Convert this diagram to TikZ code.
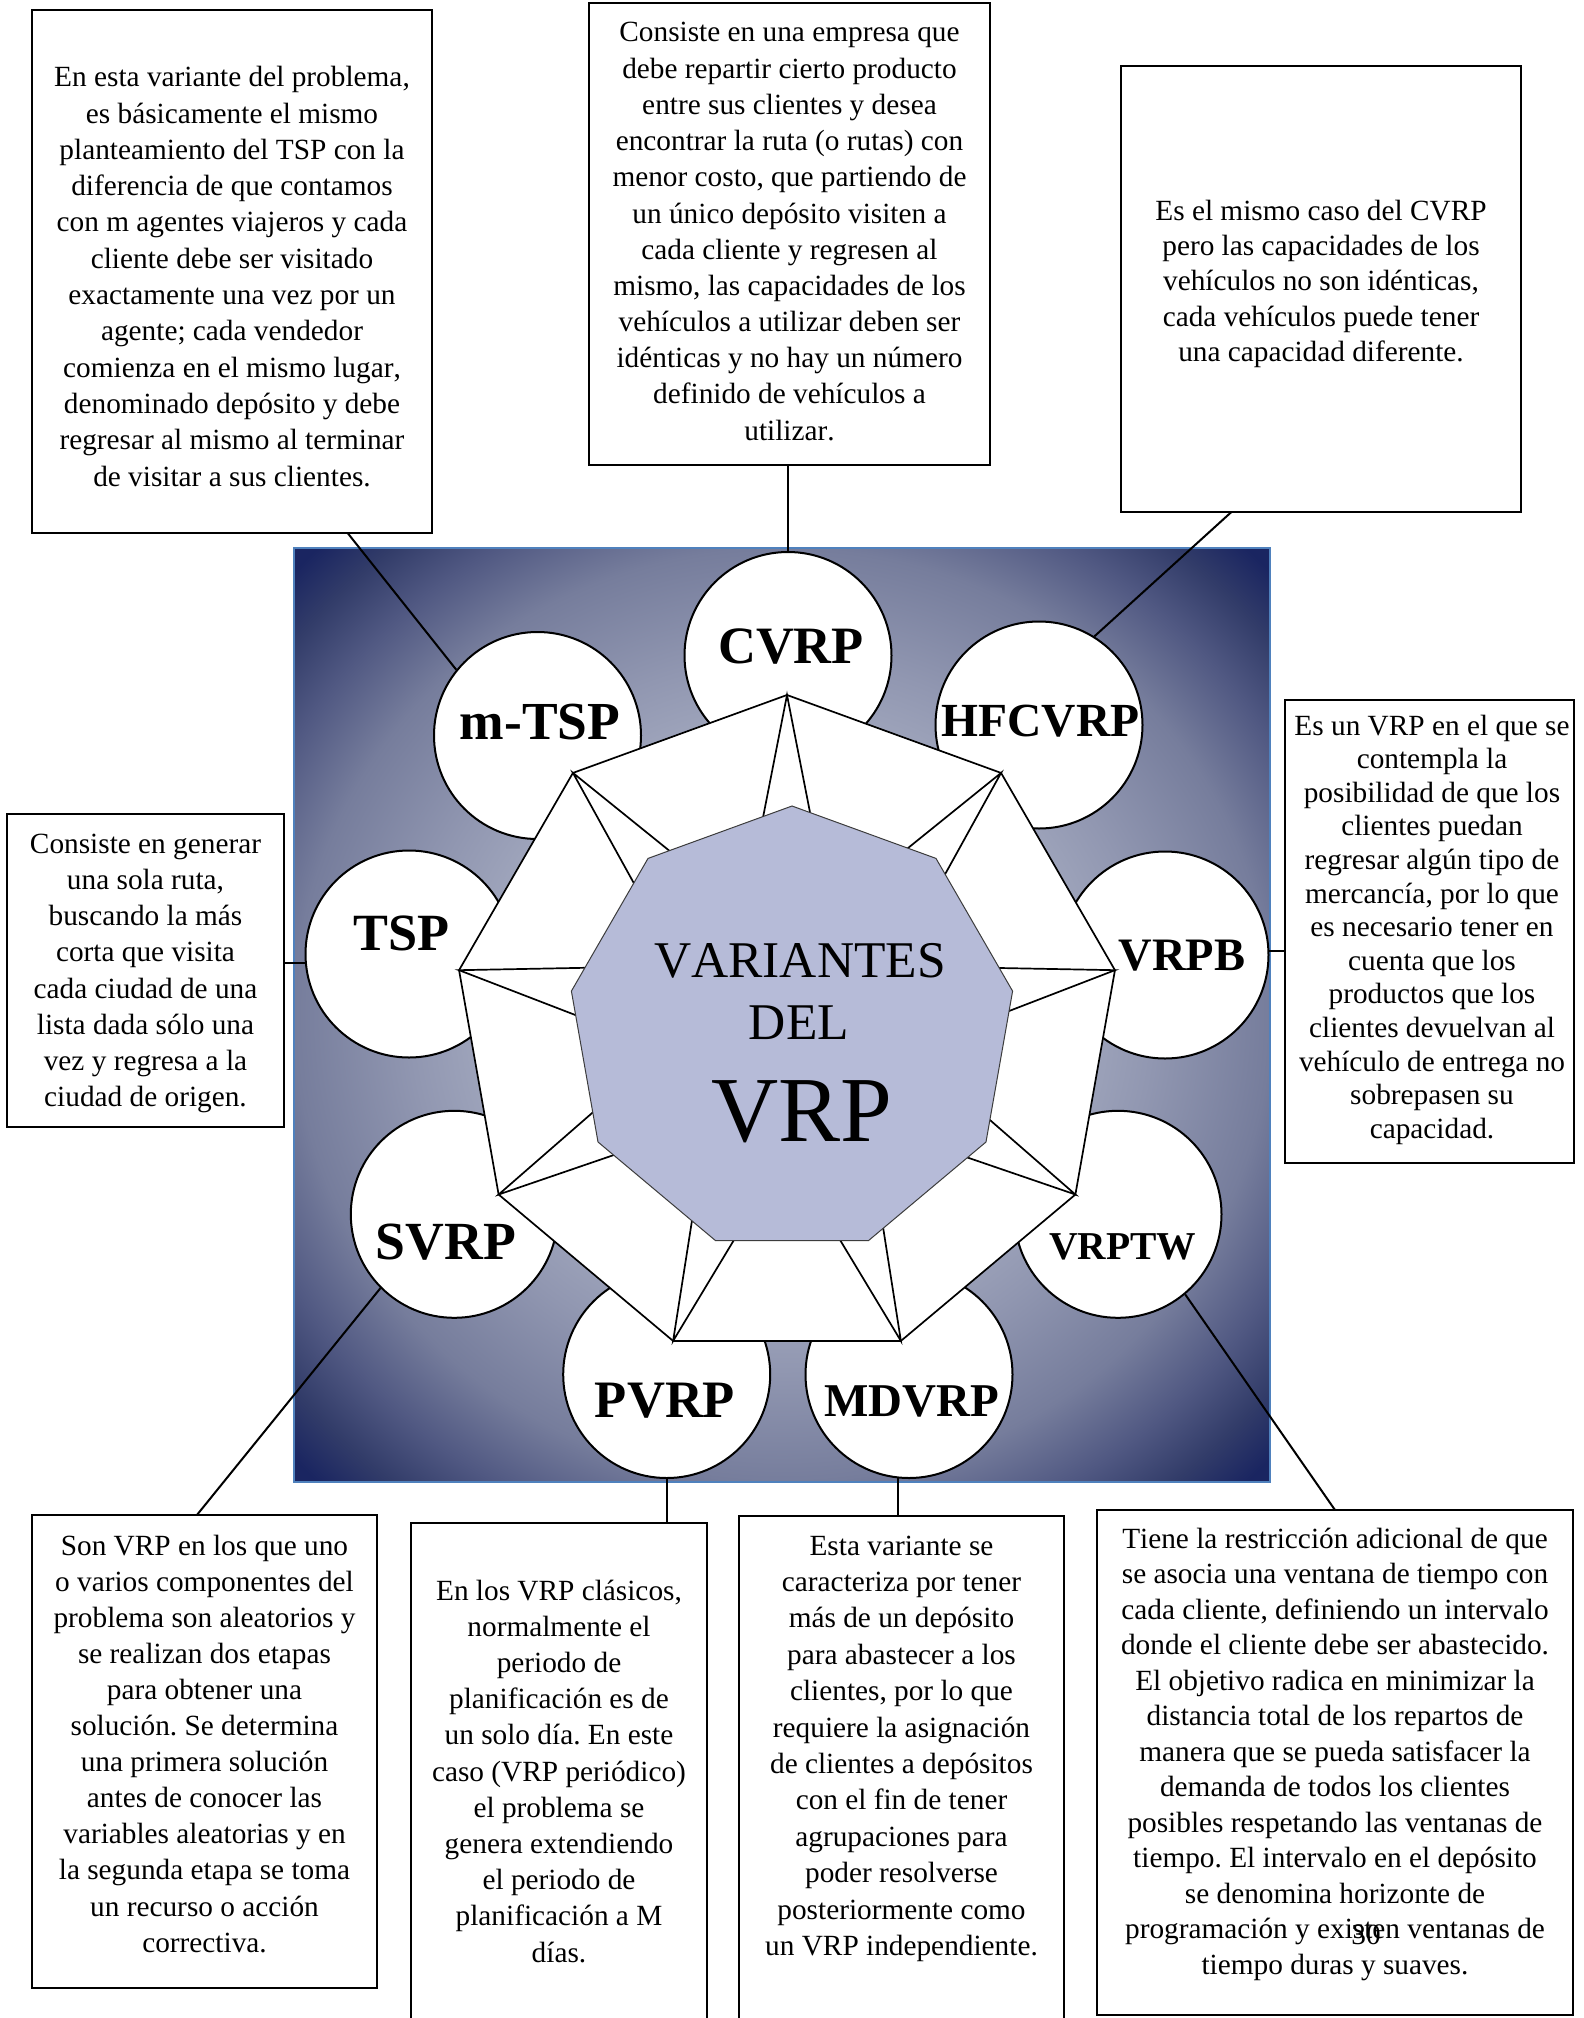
\documentclass[tikz,border=0pt]{standalone}
\usepackage{fontspec}
\setmainfont{Liberation Serif}[Kerning=Off]
\usetikzlibrary{calc}
\frenchspacing
\definecolor{bgA}{RGB}{200,204,218}
\definecolor{bgB}{RGB}{170,176,196}
\definecolor{bgC}{RGB}{145,151,177}
\definecolor{bgD}{RGB}{118,125,156}
\definecolor{bgE}{RGB}{80,88,130}
\definecolor{bgF}{RGB}{50,60,105}
\definecolor{bgG}{RGB}{26,37,97}
\definecolor{bgborder}{RGB}{79,129,189}
\definecolor{hubfill}{RGB}{182,187,216}
\definecolor{hubline}{RGB}{60,60,60}
\pgfdeclareradialshading{bgshade}{\pgfpoint{0bp}{0bp}}{color(0bp)=(bgA); color(12.5bp)=(bgB); color(19bp)=(bgC); color(25bp)=(bgD); color(29bp)=(bgE); color(32bp)=(bgF); color(34.5bp)=(bgG); color(50bp)=(bgG)}
\newcommand\txtlines[2]{\fontsize{29.3}{#1}\selectfont\frenchspacing\begin{tabular}[t]{@{}c@{}}#2\end{tabular}}
\newcommand\lbl[2]{\fontsize{#1}{#1}\selectfont\bfseries #2}
\tikzset{
  vcirc/.style={circle, draw, line width=2pt, fill=white, minimum size=207pt, inner sep=0pt},
  tbox/.style={draw, line width=2pt, fill=white, inner sep=0pt, outer sep=0pt},
  txt/.style={anchor=base, inner sep=0pt},
  lab/.style={anchor=base, inner sep=0pt},
  conn/.style={line width=2pt}
}
\begin{document}
\begin{tikzpicture}[x=1pt,y=-1pt]
\useasboundingbox (0,0) rectangle (1583,2018);
\clip (0,0) rectangle (1583,2018);
\fill[white] (0,0) rectangle (1583,2018);
% background square
\path[shading=bgshade, draw=bgborder, line width=2pt] (294,548) rectangle (1270,1482);
% circles
\node[vcirc] (cCVRP)  at (788,655.5) {};
\node[vcirc] (cHFC)   at (1039,725) {};
\node[vcirc] (cMTSP)  at (537.5,735.5) {};
\node[vcirc] (cTSP)   at (409,954) {};
\node[vcirc] (cVRPB)  at (1165,955) {};
\node[vcirc] (cSVRP)  at (454.3,1214.3) {};
\node[vcirc] (cVRPTW) at (1118,1214.3) {};
\node[vcirc] (cPVRP)  at (666.7,1374.5) {};
\node[vcirc] (cMDVRP) at (909,1374.5) {};
% labels
\node[lab] (lCVRP)  at (791,663)    {\lbl{52.5}{CVRP}};
\node[lab] (lHFC)   at (1040.6,736) {\lbl{47.5}{HFCVRP}};
\node[lab] (lMTSP)  at (540,739)    {\lbl{53.5}{m-TSP}};
\node[lab] (lTSP)   at (401.5,950)  {\lbl{52.3}{TSP}};
\node[lab] (lVRPB)  at (1182,970)   {\lbl{46.5}{VRPB}};
\node[lab] (lSVRP)  at (446,1259)   {\lbl{53.7}{SVRP}};
\node[lab] (lVRPTW) at (1122.5,1259){\lbl{39.5}{VRPTW}};
\node[lab] (lPVRP)  at (665,1417)   {\lbl{52.6}{PVRP}};
\node[lab] (lMDVRP) at (912,1416)   {\lbl{47}{MDVRP}};
% outer nonagon
\draw[fill=white, line width=1.7pt, line join=miter]
  ({787+333*cos(90)},{1028-333*sin(90)})
  \foreach \k in {1,...,8} { -- ({787+333*cos(90+40*\k)},{1028-333*sin(90+40*\k)}) } -- cycle;
% star
\draw[fill=white, line width=1.7pt, line join=miter]
  ({787+333*cos(90)},{1028-333*sin(90)})
  \foreach \k in {0,...,8} { -- ({787+124*cos(110+40*\k)},{1028-124*sin(110+40*\k)})
                             -- ({787+333*cos(130+40*\k)},{1028-333*sin(130+40*\k)}) } -- cycle;
% inner nonagon
\draw[fill=hubfill, draw=hubline, line width=1pt]
  ({792+224*cos(90)},{1030-224*sin(90)})
  \foreach \k in {1,...,8} { -- ({792+224*cos(90+40*\k)},{1030-224*sin(90+40*\k)}) } -- cycle;
\node[lab] (tVar) at (800,977)    {\fontsize{51.5}{60}\selectfont VARIANTES};
\node[lab] (tDel) at (799,1039.5) {\fontsize{51.5}{60}\selectfont DEL};
\node[lab] (tVrp) at (802,1141)   {\fontsize{93}{100}\selectfont VRP};
% boxes
\node[tbox, minimum width=400pt, minimum height=523pt] (bMTSP)  at (232,271.5) {};
\node[tbox, minimum width=401pt, minimum height=462pt] (bCVRP)  at (789.5,234) {};
\node[tbox, minimum width=400pt, minimum height=446pt] (bHFC)   at (1321,289) {};
\node[tbox, minimum width=289pt, minimum height=463pt] (bVRPB)  at (1429.5,931.5) {};
\node[tbox, minimum width=277pt, minimum height=313pt] (bTSP)   at (145.5,970.5) {};
\node[tbox, minimum width=345pt, minimum height=473pt] (bSVRP)  at (204.5,1751.5) {};
\node[tbox, minimum width=296pt, minimum height=517pt] (bPVRP)  at (559,1781.5) {};
\node[tbox, minimum width=325pt, minimum height=524pt] (bMDVRP) at (901.5,1778) {};
\node[tbox, minimum width=476pt, minimum height=505pt] (bVRPTW) at (1335,1762.5) {};
% texts
\node[txt] (tMTSP) at (232,86.8) {\txtlines{36.3}{En esta variante del problema,\\ es básicamente el mismo\\ planteamiento del TSP con la\\ diferencia de que contamos\\ con m agentes viajeros y cada\\ cliente debe ser visitado\\ exactamente una vez por un\\ agente; cada vendedor\\ comienza en el mismo lugar,\\ denominado depósito y debe\\ regresar al mismo al terminar\\ de visitar a sus clientes.}};
\node[txt] (tCVRP) at (789.5,42) {\txtlines{36.2}{Consiste en una empresa que\\ debe repartir cierto producto\\ entre sus clientes y desea\\ encontrar la ruta (o rutas) con\\ menor costo, que partiendo de\\ un único depósito visiten a\\ cada cliente y regresen al\\ mismo, las capacidades de los\\ vehículos a utilizar deben ser\\ idénticas y no hay un número\\ definido de vehículos a\\ utilizar.}};
\node[txt] (tHFC) at (1321,220) {\txtlines{35.4}{Es el mismo caso del CVRP\\ pero las capacidades de los\\ vehículos no son idénticas,\\ cada vehículos puede tener\\ una capacidad diferente.}};
\node[txt] (tVRPB) at (1432,735) {\txtlines{33.6}{Es un VRP en el que se\\ contempla la\\ posibilidad de que los\\ clientes puedan\\ regresar algún tipo de\\ mercancía, por lo que\\ es necesario tener en\\ cuenta que los\\ productos que los\\ clientes devuelvan al\\ vehículo de entrega no\\ sobrepasen su\\ capacidad.}};
\node[txt] (tTSP) at (145.5,853.3) {\txtlines{36.2}{Consiste en generar\\ una sola ruta,\\ buscando la más\\ corta que visita\\ cada ciudad de una\\ lista dada sólo una\\ vez y regresa a la\\ ciudad de origen.}};
\node[txt] (tSVRP) at (204.5,1555) {\txtlines{36.1}{Son VRP en los que uno\\ o varios componentes del\\ problema son aleatorios y\\ se realizan dos etapas\\ para obtener una\\ solución. Se determina\\ una primera solución\\ antes de conocer las\\ variables aleatorias y en\\ la segunda etapa se toma\\ un recurso o acción\\ correctiva.}};
\node[txt] (tPVRP) at (559,1600) {\txtlines{36.2}{En los VRP clásicos,\\ normalmente el\\ periodo de\\ planificación es de\\ un solo día. En este\\ caso (VRP periódico)\\ el problema se\\ genera extendiendo\\ el periodo de\\ planificación a M\\ días.}};
\node[txt] (tMDVRP) at (901.5,1555) {\txtlines{36.4}{Esta variante se\\ caracteriza por tener\\ más de un depósito\\ para abastecer a los\\ clientes, por lo que\\ requiere la asignación\\ de clientes a depósitos\\ con el fin de tener\\ agrupaciones para\\ poder resolverse\\ posteriormente como\\ un VRP independiente.}};
\node[txt] (tVRPTW) at (1335,1548) {\txtlines{35.5}{Tiene la restricción adicional de que\\ se asocia una ventana de tiempo con\\ cada cliente, definiendo un intervalo\\ donde el cliente debe ser abastecido.\\ El objetivo radica en minimizar la\\ distancia total de los repartos de\\ manera que se pueda satisfacer la\\ demanda de todos los clientes\\ posibles respetando las ventanas de\\ tiempo. El intervalo en el depósito\\ se denomina horizonte de\\ programación y existen ventanas de\\ tiempo duras y suaves.}};
\node[txt] (pgnum) at (1366,1944) {\fontsize{29.3}{30}\selectfont 30};
% connectors
\draw[conn] ($(bMTSP.south west)!0.789!(bMTSP.south east)$) -- (cMTSP.141);
\draw[conn] (cCVRP.north) -- (cCVRP.north |- bCVRP.south);
\draw[conn] ($(bHFC.south west)!0.276!(bHFC.south east)$) -- (cHFC.58);
\draw[conn] (cTSP.185) -- (cTSP.185 -| bTSP.east);
\draw[conn] (cVRPB.2) -- (cVRPB.2 -| bVRPB.west);
\draw[conn] (cSVRP.225) -- ($(bSVRP.north west)!0.478!(bSVRP.north east)$);
\draw[conn] (cPVRP.south) -- (cPVRP.south |- bPVRP.north);
\draw[conn] (cMDVRP.264) -- (cMDVRP.264 |- bMDVRP.north);
\draw[conn] (cVRPTW.310) -- (bVRPTW.north);
\end{tikzpicture}
\end{document}
